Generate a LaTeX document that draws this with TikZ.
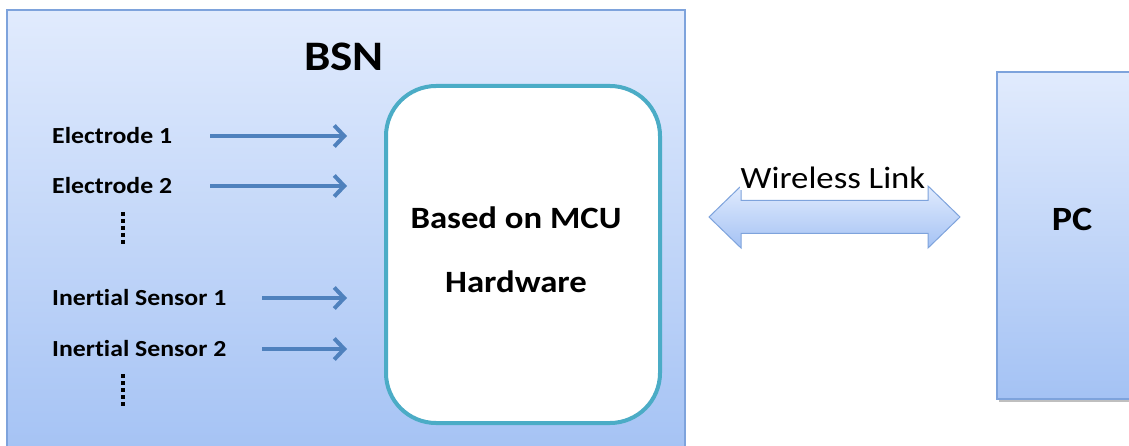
\documentclass[tikz,border=0pt]{standalone}
\usepackage{fontspec}
\setmainfont{Carlito}[FakeStretch=1.12, Ligatures=NoCommon]
\usetikzlibrary{arrows.meta}
\definecolor{paneltop}{HTML}{E1EBFD}
\definecolor{panelbot}{HTML}{A4C2F4}
\definecolor{panelline}{HTML}{7EA3DC}
\definecolor{mculine}{HTML}{4BACC6}
\definecolor{feed}{HTML}{4F81BD}
\tikzset{
  panel/.style={draw=panelline, line width=1.2pt},
  inlabel/.style={anchor=west, inner sep=0pt, font=\fontsize{23}{23}\selectfont\bfseries},
  feedarrow/.style={draw=feed, line width=4pt, -{Straight Barb[length=10pt,width=21pt,line width=4pt]}},
  vdots/.style={line width=4.5pt, dash pattern=on 4pt off 3pt},
}
\begin{document}
\begin{tikzpicture}[x=1pt,y=-1pt]
\useasboundingbox (0,0) rectangle (1129,446);
\fill[white] (0,0) rectangle (1129,446);

% body sensor network panel
\shade[top color=paneltop, bottom color=panelbot] (7,10) rectangle (685,460);
\draw[panel] (7,460) -- (7,10) -- (685,10) -- (685,460);
\node[font=\fontsize{42}{42}\selectfont\bfseries] (bsn) at (344,57) {BSN};

% microcontroller block
\node[draw=mculine, line width=4pt, fill=white, rounded corners=50pt,
      minimum width=274pt, minimum height=337pt, inner sep=0pt] (mcu) at (523,254.5) {};
\node[font=\fontsize{31}{31}\selectfont\bfseries] (mcu1) at (516,218) {Based on MCU};
\node[font=\fontsize{31}{31}\selectfont\bfseries] (mcu2) at (516,282) {Hardware};

% inputs
\node[inlabel] (e1) at (52,136) {Electrode 1};
\node[inlabel] (e2) at (52,186) {Electrode 2};
\node[inlabel] (s1) at (52,298) {Inertial Sensor 1};
\node[inlabel] (s2) at (52,349) {Inertial Sensor 2};

\coordinate (e1a) at (210,136); \coordinate (e1b) at (347,136);
\coordinate (e2a) at (210,186); \coordinate (e2b) at (347,186);
\coordinate (s1a) at (262,298); \coordinate (s1b) at (347,298);
\coordinate (s2a) at (262,349); \coordinate (s2b) at (347,349);
\draw[feedarrow] (e1a) -- (e1b);
\draw[feedarrow] (e2a) -- (e2b);
\draw[feedarrow] (s1a) -- (s1b);
\draw[feedarrow] (s2a) -- (s2b);

% five-dot continuation marks
\coordinate (d1a) at (123,212); \coordinate (d1b) at (123,244);
\coordinate (d2a) at (123,374); \coordinate (d2b) at (123,406);
\draw[vdots] (d1a) -- (d1b);
\draw[vdots] (d2a) -- (d2b);

% wireless link double arrow
\shade[top color=paneltop, bottom color=panelbot, draw=panelline, line width=1pt]
  (709,217) -- (741,186) -- (741,200.5) -- (928,200.5) -- (928,186) -- (960,217)
  -- (928,248) -- (928,233.5) -- (741,233.5) -- (741,248) -- cycle;
\node[font=\fontsize{31}{31}\selectfont, fill=white, inner sep=1pt] (wl) at (833,178) {Wireless Link};

% host computer
\fill[black!25] (999,75) rectangle (1140,402);
\shade[top color=paneltop, bottom color=panelbot] (997,72) rectangle (1140,399);
\draw[panel] (1140,72) -- (997,72) -- (997,399) -- (1140,399);
\node[font=\fontsize{34}{34}\selectfont\bfseries] (pc) at (1072,219) {PC};
\end{tikzpicture}
\end{document}
